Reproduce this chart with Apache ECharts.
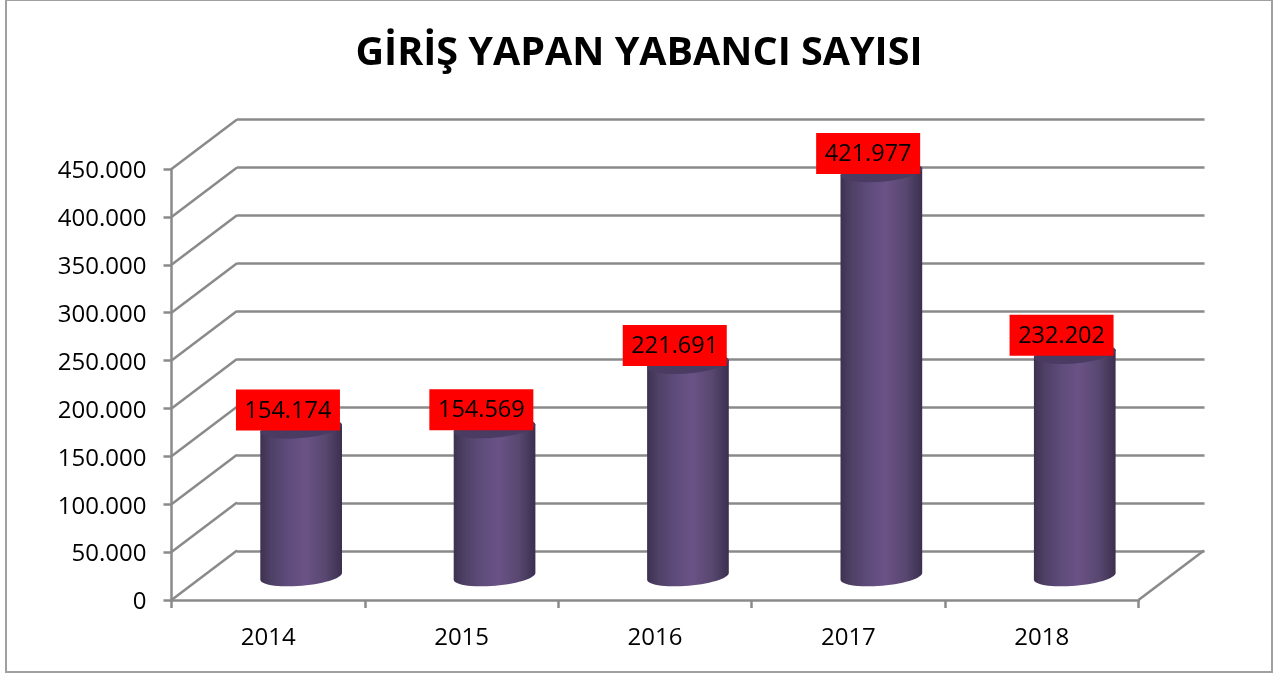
<!DOCTYPE html>
<html>
<head>
<meta charset="utf-8">
<title>GİRİŞ YAPAN YABANCI SAYISI</title>
<style>
  html, body { margin: 0; padding: 0; background: #fff; }
  #chart { width: 1288px; height: 673px; }
</style>
<script src="https://cdn.jsdelivr.net/npm/echarts@6/dist/echarts.min.js"></script>
</head>
<body>
<div id="chart"></div>
<script>
var years = ['2014', '2015', '2016', '2017', '2018'];
var entries = [154174, 154569, 221691, 421977, 232202];
var yTicks = [0, 50000, 100000, 150000, 200000, 250000, 300000, 350000, 400000, 450000];

// egik (3B) gorunum icin derinlik
var depthX = 65.5;
var depthY = 49.5;
var lineColor = '#8a8a8a';
var lineWidth = 2.5;
var fontName = '"Open Sans", sans-serif';

function dotted(v) {
  return String(v).replace(/\B(?=(\d{3})+$)/g, '.');
}

// donuk elips uzerinde noktalar
function arc(cx, cy, from, to) {
  var a = 41, b = 9.5, r = -5 * Math.PI / 180, pts = [];
  for (var i = 0; i <= 30; i++) {
    var t = from + (to - from) * i / 30;
    pts.push([
      cx + a * Math.cos(t) * Math.cos(r) - b * Math.sin(t) * Math.sin(r),
      cy + a * Math.cos(t) * Math.sin(r) + b * Math.sin(t) * Math.cos(r)
    ]);
  }
  return pts;
}

function renderCylinder(params, api) {
  var base = api.coord([api.value(0), 0]);
  var top = api.coord([api.value(0), api.value(1)]);
  var cx = base[0] + depthX / 2 + 0.2;
  var by = base[1] - depthY / 2 + 1;
  var ty = top[1] - depthY / 2 + 1;
  var body = arc(cx, by, 0, Math.PI).concat(arc(cx, ty, Math.PI, 2 * Math.PI));
  return {
    type: 'group',
    children: [
      {
        type: 'polygon',
        shape: { points: body },
        style: {
          fill: new echarts.graphic.LinearGradient(0, 0, 1, 0, [
            { offset: 0, color: '#3d3150' },
            { offset: 0.12, color: '#4d3f64' },
            { offset: 0.35, color: '#5f4c7c' },
            { offset: 0.55, color: '#6a5286' },
            { offset: 0.8, color: '#584770' },
            { offset: 1, color: '#3b2f4e' }
          ])
        }
      },
      {
        type: 'polygon',
        shape: { points: arc(cx, ty, 0, 2 * Math.PI) },
        style: { fill: '#4a3b62' }
      }
    ]
  };
}

function renderValueLabel(params, api) {
  var top = api.coord([api.value(0), api.value(1)]);
  var cx = top[0] + depthX / 2 - 13;
  var cy = top[1] - depthY / 2 - 17.5;
  return {
    type: 'group',
    children: [
      {
        type: 'rect',
        shape: { x: cx - 52, y: cy - 20.5, width: 104, height: 41 },
        style: { fill: '#ff0000' }
      },
      {
        type: 'text',
        x: cx,
        y: cy + 1,
        style: {
          text: dotted(api.value(1)),
          fill: '#000',
          font: '23.5px ' + fontName,
          align: 'center',
          verticalAlign: 'middle'
        }
      }
    ]
  };
}

// sol duvar ve sag zemin capraz cizgileri
function renderDiagonal(params, api) {
  var sys = params.coordSys;
  var y = api.coord([0, api.value(0)])[1];
  var shapes = [{
    type: 'line',
    shape: { x1: sys.x, y1: y, x2: sys.x + depthX, y2: y - depthY },
    style: { stroke: lineColor, lineWidth: lineWidth }
  }];
  if (api.value(0) === 0) {
    shapes.push({
      type: 'line',
      shape: { x1: sys.x + sys.width, y1: y, x2: sys.x + sys.width + depthX, y2: y - depthY },
      style: { stroke: lineColor, lineWidth: lineWidth }
    });
  }
  return { type: 'group', children: shapes };
}

var chart = echarts.init(document.getElementById('chart'), null, { renderer: 'canvas' });

chart.setOption({
  backgroundColor: '#fff',
  animation: false,
  graphic: [{
    type: 'rect',
    z: -1,
    shape: { x: 6, y: 0, width: 1266, height: 672 },
    style: { fill: 'none', stroke: '#a0a0a0', lineWidth: 2 }
  }],
  title: {
    text: 'GİRİŞ YAPAN YABANCI SAYISI',
    left: 634,
    top: 29,
    textAlign: 'center',
    textStyle: { fontFamily: fontName, fontSize: 39.5, fontWeight: 'bold', color: '#000' }
  },
  grid: [
    { left: 171.5, top: 169, width: 967, height: 431 },
    { left: 237, top: 119, width: 967.5, height: 432 }
  ],
  xAxis: [
    {
      type: 'category',
      gridIndex: 0,
      data: years,
      axisLine: { lineStyle: { color: lineColor, width: lineWidth } },
      axisTick: { show: true, length: 8, lineStyle: { color: lineColor, width: lineWidth } },
      axisLabel: { margin: 26, color: '#000', fontFamily: fontName, fontSize: 24 }
    },
    { type: 'category', gridIndex: 1, data: years, show: false }
  ],
  yAxis: [
    {
      type: 'value',
      gridIndex: 0,
      min: 0,
      max: 450000,
      interval: 50000,
      axisLine: { show: true, lineStyle: { color: lineColor, width: lineWidth } },
      axisTick: { show: true, length: 8, lineStyle: { color: lineColor, width: lineWidth } },
      axisLabel: { margin: 25, verticalAlign: 'top', lineHeight: 5, color: '#000', fontFamily: fontName, fontSize: 24, formatter: dotted },
      splitLine: { show: false }
    },
    {
      type: 'value',
      gridIndex: 1,
      min: 0,
      max: 450000,
      interval: 50000,
      axisLine: { show: false },
      axisTick: { show: false },
      axisLabel: { show: false },
      splitLine: { show: true, lineStyle: { color: lineColor, width: lineWidth } }
    }
  ],
  series: [
    {
      type: 'custom',
      xAxisIndex: 0,
      yAxisIndex: 0,
      renderItem: renderDiagonal,
      encode: { y: 0 },
      data: yTicks.map(function (v) { return [v]; }),
      z: 1
    },
    {
      type: 'custom',
      xAxisIndex: 0,
      yAxisIndex: 0,
      renderItem: renderCylinder,
      data: years.map(function (y, i) { return [i, entries[i]]; }),
      z: 2
    },
    {
      type: 'custom',
      xAxisIndex: 0,
      yAxisIndex: 0,
      renderItem: renderValueLabel,
      data: years.map(function (y, i) { return [i, entries[i]]; }),
      z: 3
    }
  ]
});
</script>
</body>
</html>
